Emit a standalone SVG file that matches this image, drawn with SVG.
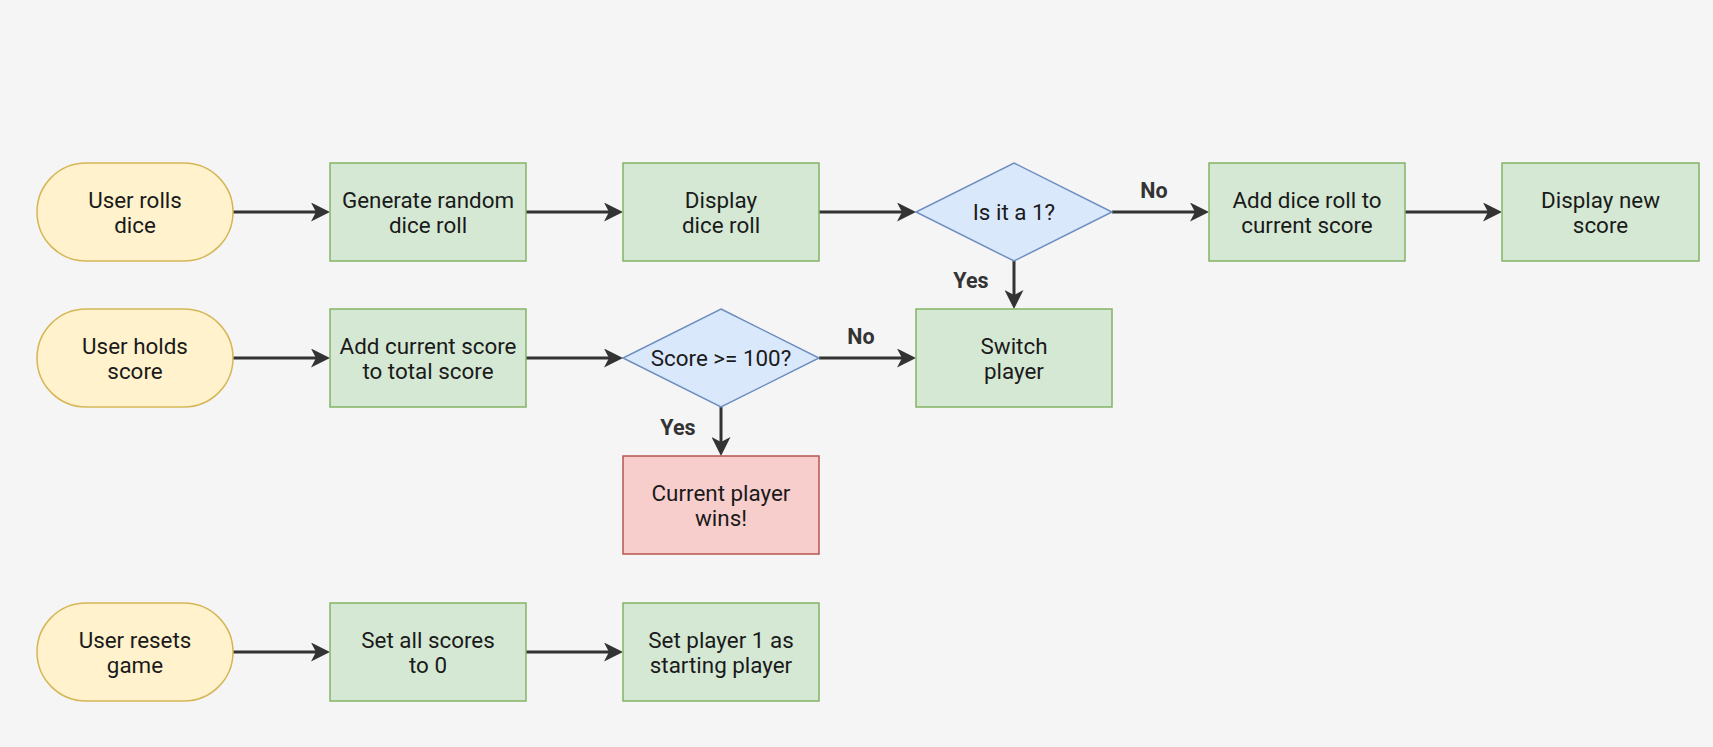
<svg xmlns="http://www.w3.org/2000/svg" width="1713" height="747" viewBox="0 0 1713 747">
<defs>
<style>
.term{fill:#fff2cc;stroke:#d6b656;stroke-width:1.5}
.proc{fill:#d5e8d4;stroke:#82b366;stroke-width:1.5}
.dec{fill:#dae8fc;stroke:#6c8ebf;stroke-width:1.5}
.end{fill:#f8cecc;stroke:#b85450;stroke-width:1.5}
.t{font-family:Roboto,"Liberation Sans",sans-serif;font-size:22.4px;fill:#1a1a1a;text-anchor:middle}
.lbl{font-family:Roboto,"Liberation Sans",sans-serif;font-size:21.5px;font-weight:bold;fill:#333333;text-anchor:middle}
.c{stroke:#333333;stroke-width:3;fill:none;marker-end:url(#arr)}
</style>
<marker id="arr" viewBox="0 0 19 19" markerWidth="19" markerHeight="19" markerUnits="userSpaceOnUse" refX="8" refY="9.5" orient="auto">
<path d="M0,0 L19,9.5 L0,19 L5,9.5 z" fill="#333333"/>
</marker>
</defs>
<rect width="1713" height="747" fill="#f5f5f5"/>
<g id="connectors">
<line class="c" x1="233" y1="212" x2="319" y2="212"/>
<line class="c" x1="526" y1="212" x2="612" y2="212"/>
<line class="c" x1="819" y1="212" x2="905" y2="212"/>
<line class="c" x1="1112" y1="212" x2="1198" y2="212"/>
<line class="c" x1="1405" y1="212" x2="1491" y2="212"/>
<line class="c" x1="1014" y1="261" x2="1014" y2="298"/>
<line class="c" x1="233" y1="358" x2="319" y2="358"/>
<line class="c" x1="526" y1="358" x2="612" y2="358"/>
<line class="c" x1="819" y1="358" x2="905" y2="358"/>
<line class="c" x1="721" y1="407" x2="721" y2="445"/>
<line class="c" x1="233" y1="652" x2="319" y2="652"/>
<line class="c" x1="526" y1="652" x2="612" y2="652"/>
<text class="lbl" x="1154" y="198">No</text>
<text class="lbl" x="971" y="288">Yes</text>
<text class="lbl" x="861" y="344">No</text>
<text class="lbl" x="678" y="435">Yes</text>
</g>
<g id="user-rolls">
<rect class="term" x="37" y="163" width="196" height="98" rx="49" ry="49"/>
<text class="t" x="135" y="208">User rolls</text>
<text class="t" x="135" y="233">dice</text>
</g>
<g id="generate">
<rect class="proc" x="330" y="163" width="196" height="98"/>
<text class="t" x="428" y="208">Generate random</text>
<text class="t" x="428" y="233">dice roll</text>
</g>
<g id="display-roll">
<rect class="proc" x="623" y="163" width="196" height="98"/>
<text class="t" x="721" y="208">Display</text>
<text class="t" x="721" y="233">dice roll</text>
</g>
<g id="is-one">
<polygon class="dec" points="1014,163 1112,212 1014,261 916,212"/>
<text class="t" x="1014" y="220">Is it a 1?</text>
</g>
<g id="add-roll">
<rect class="proc" x="1209" y="163" width="196" height="98"/>
<text class="t" x="1307" y="208">Add dice roll to</text>
<text class="t" x="1307" y="233">current score</text>
</g>
<g id="display-new">
<rect class="proc" x="1502" y="163" width="197" height="98"/>
<text class="t" x="1600.5" y="208">Display new</text>
<text class="t" x="1600.5" y="233">score</text>
</g>
<g id="user-holds">
<rect class="term" x="37" y="309" width="196" height="98" rx="49" ry="49"/>
<text class="t" x="135" y="354">User holds</text>
<text class="t" x="135" y="379">score</text>
</g>
<g id="add-current">
<rect class="proc" x="330" y="309" width="196" height="98"/>
<text class="t" x="428" y="354">Add current score</text>
<text class="t" x="428" y="379">to total score</text>
</g>
<g id="score-check">
<polygon class="dec" points="721,309 819,358 721,407 623,358"/>
<text class="t" x="721" y="366">Score &gt;= 100?</text>
</g>
<g id="switch-player">
<rect class="proc" x="916" y="309" width="196" height="98"/>
<text class="t" x="1014" y="354">Switch</text>
<text class="t" x="1014" y="379">player</text>
</g>
<g id="wins">
<rect class="end" x="623" y="456" width="196" height="98"/>
<text class="t" x="721" y="501">Current player</text>
<text class="t" x="721" y="526">wins!</text>
</g>
<g id="user-resets">
<rect class="term" x="37" y="603" width="196" height="98" rx="49" ry="49"/>
<text class="t" x="135" y="648">User resets</text>
<text class="t" x="135" y="673">game</text>
</g>
<g id="set-scores">
<rect class="proc" x="330" y="603" width="196" height="98"/>
<text class="t" x="428" y="648">Set all scores</text>
<text class="t" x="428" y="673">to 0</text>
</g>
<g id="set-player">
<rect class="proc" x="623" y="603" width="196" height="98"/>
<text class="t" x="721" y="648">Set player 1 as</text>
<text class="t" x="721" y="673">starting player</text>
</g>
</svg>
